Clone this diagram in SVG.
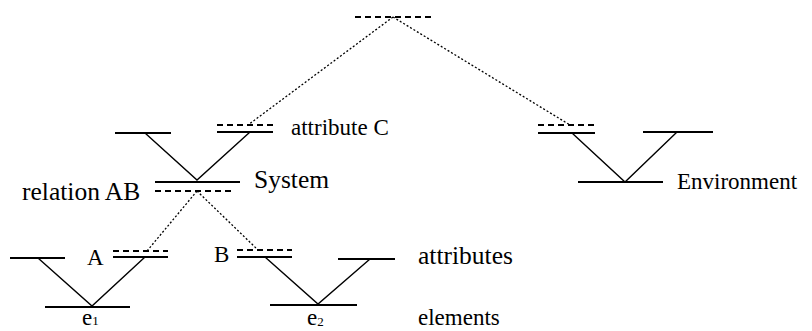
<svg xmlns="http://www.w3.org/2000/svg" width="812" height="331" viewBox="0 0 812 331">
<style>
.s{stroke:#000;stroke-width:2;fill:none}
.d{stroke:#000;stroke-width:2;fill:none;stroke-dasharray:6,4}
.v{stroke:#000;stroke-width:1.4;fill:none}
.c{stroke:#000;stroke-width:1.3;fill:none;stroke-dasharray:2,2}
text{font-family:"Liberation Serif","Times New Roman",serif;font-size:23px;fill:#000}
.b{font-size:25.5px}
</style>
<rect width="812" height="331" fill="#fff"/>
<g id="connectors">
<line class="c" x1="393" y1="17" x2="248" y2="125"/>
<line class="c" x1="393" y1="17" x2="570" y2="125"/>
<line class="c" x1="197" y1="191" x2="147" y2="251"/>
<line class="c" x1="197" y1="191" x2="258" y2="250"/>
</g>
<g id="top">
<line class="d" x1="355" y1="17" x2="431" y2="17"/>
</g>
<g id="system">
<line class="s" x1="115" y1="133" x2="171" y2="133"/>
<line class="s" x1="217" y1="132" x2="273" y2="132"/>
<line class="d" x1="217" y1="125" x2="273" y2="125"/>
<polyline class="v" points="145,133 197,180 250,132"/>
<line class="s" x1="155" y1="182" x2="240" y2="182"/>
<line class="d" x1="155" y1="191" x2="231" y2="191"/>
<text x="291" y="135">attribute C</text>
<text class="b" x="254" y="188">System</text>
<text class="b" x="22" y="200">relation AB</text>
</g>
<g id="environment">
<line class="d" x1="538" y1="125" x2="595" y2="125"/>
<line class="s" x1="538" y1="133" x2="595" y2="133"/>
<line class="s" x1="643" y1="132" x2="713" y2="132"/>
<polyline class="v" points="572,133 625,182 677,132"/>
<line class="s" x1="578" y1="182" x2="663" y2="182"/>
<text x="677" y="189">Environment</text>
</g>
<g id="e1">
<line class="s" x1="10" y1="258" x2="65" y2="258"/>
<line class="d" x1="113" y1="251" x2="168" y2="251"/>
<line class="s" x1="113" y1="257" x2="168" y2="257"/>
<polyline class="v" points="38,258 92,306 145,257"/>
<line class="s" x1="45" y1="307" x2="130" y2="307"/>
<text x="87" y="265">A</text>
<text x="82" y="325">e<tspan font-size="13">1</tspan></text>
</g>
<g id="e2">
<line class="d" x1="237" y1="250" x2="292" y2="250"/>
<line class="s" x1="237" y1="257" x2="292" y2="257"/>
<line class="s" x1="338" y1="259" x2="395" y2="259"/>
<polyline class="v" points="265,257 318,304 370,259"/>
<line class="s" x1="270" y1="305" x2="357" y2="305"/>
<text x="214" y="262">B</text>
<text x="307" y="325">e<tspan font-size="13" dy="1">2</tspan></text>
</g>
<g id="labels">
<text class="b" x="418" y="264">attributes</text>
<text x="418" y="325">elements</text>
</g>
</svg>
